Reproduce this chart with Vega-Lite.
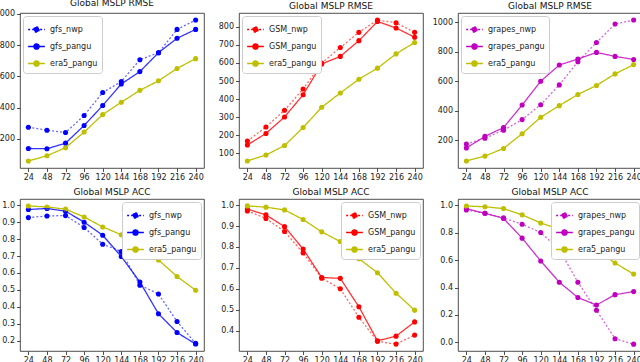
{
  "$schema": "https://vega.github.io/schema/vega-lite/v6.json",
  "autosize": {"type": "pad"},
  "padding": {"left": -7, "top": -2, "right": 0, "bottom": 0},
  "background": "white",
  "spacing": 5,
  "datasets": {
    "rmse": [
      {"series":"gfs_nwp","lead":24,"value":274},{"series":"gfs_nwp","lead":48,"value":255},{"series":"gfs_nwp","lead":72,"value":240},{"series":"gfs_nwp","lead":96,"value":349},{"series":"gfs_nwp","lead":120,"value":496},{"series":"gfs_nwp","lead":144,"value":566},{"series":"gfs_nwp","lead":168,"value":706},{"series":"gfs_nwp","lead":192,"value":751},{"series":"gfs_nwp","lead":216,"value":900},{"series":"gfs_nwp","lead":240,"value":960},
      {"series":"gfs_pangu","lead":24,"value":138},{"series":"gfs_pangu","lead":48,"value":136},{"series":"gfs_pangu","lead":72,"value":172},{"series":"gfs_pangu","lead":96,"value":285},{"series":"gfs_pangu","lead":120,"value":413},{"series":"gfs_pangu","lead":144,"value":551},{"series":"gfs_pangu","lead":168,"value":630},{"series":"gfs_pangu","lead":192,"value":751},{"series":"gfs_pangu","lead":216,"value":843},{"series":"gfs_pangu","lead":240,"value":900},
      {"series":"GSM_nwp","lead":24,"value":168},{"series":"GSM_nwp","lead":48,"value":246},{"series":"GSM_nwp","lead":72,"value":338},{"series":"GSM_nwp","lead":96,"value":456},{"series":"GSM_nwp","lead":120,"value":599},{"series":"GSM_nwp","lead":144,"value":685},{"series":"GSM_nwp","lead":168,"value":769},{"series":"GSM_nwp","lead":192,"value":837},{"series":"GSM_nwp","lead":216,"value":822},{"series":"GSM_nwp","lead":240,"value":769},
      {"series":"GSM_pangu","lead":24,"value":146},{"series":"GSM_pangu","lead":48,"value":210},{"series":"GSM_pangu","lead":72,"value":301},{"series":"GSM_pangu","lead":96,"value":424},{"series":"GSM_pangu","lead":120,"value":594},{"series":"GSM_pangu","lead":144,"value":636},{"series":"GSM_pangu","lead":168,"value":723},{"series":"GSM_pangu","lead":192,"value":829},{"series":"GSM_pangu","lead":216,"value":793},{"series":"GSM_pangu","lead":240,"value":742},
      {"series":"grapes_nwp","lead":24,"value":173},{"series":"grapes_nwp","lead":48,"value":213},{"series":"grapes_nwp","lead":72,"value":267},{"series":"grapes_nwp","lead":96,"value":339},{"series":"grapes_nwp","lead":120,"value":440},{"series":"grapes_nwp","lead":144,"value":575},{"series":"grapes_nwp","lead":168,"value":733},{"series":"grapes_nwp","lead":192,"value":863},{"series":"grapes_nwp","lead":216,"value":989},{"series":"grapes_nwp","lead":240,"value":1016},
      {"series":"grapes_pangu","lead":24,"value":146},{"series":"grapes_pangu","lead":48,"value":225},{"series":"grapes_pangu","lead":72,"value":285},{"series":"grapes_pangu","lead":96,"value":438},{"series":"grapes_pangu","lead":120,"value":600},{"series":"grapes_pangu","lead":144,"value":710},{"series":"grapes_pangu","lead":168,"value":751},{"series":"grapes_pangu","lead":192,"value":796},{"series":"grapes_pangu","lead":216,"value":769},{"series":"grapes_pangu","lead":240,"value":748},
      {"series":"era5_pangu","lead":24,"value":58},{"series":"era5_pangu","lead":48,"value":91},{"series":"era5_pangu","lead":72,"value":143},{"series":"era5_pangu","lead":96,"value":243},{"series":"era5_pangu","lead":120,"value":355},{"series":"era5_pangu","lead":144,"value":434},{"series":"era5_pangu","lead":168,"value":510},{"series":"era5_pangu","lead":192,"value":571},{"series":"era5_pangu","lead":216,"value":650},{"series":"era5_pangu","lead":240,"value":713}
    ],
    "acc": [
      {"series":"gfs_nwp","lead":24,"value":0.927},{"series":"gfs_nwp","lead":48,"value":0.937},{"series":"gfs_nwp","lead":72,"value":0.939},{"series":"gfs_nwp","lead":96,"value":0.869},{"series":"gfs_nwp","lead":120,"value":0.770},{"series":"gfs_nwp","lead":144,"value":0.727},{"series":"gfs_nwp","lead":168,"value":0.528},{"series":"gfs_nwp","lead":192,"value":0.476},{"series":"gfs_nwp","lead":216,"value":0.313},{"series":"gfs_nwp","lead":240,"value":0.184},
      {"series":"gfs_pangu","lead":24,"value":0.975},{"series":"gfs_pangu","lead":48,"value":0.981},{"series":"gfs_pangu","lead":72,"value":0.965},{"series":"gfs_pangu","lead":96,"value":0.900},{"series":"gfs_pangu","lead":120,"value":0.823},{"series":"gfs_pangu","lead":144,"value":0.697},{"series":"gfs_pangu","lead":168,"value":0.547},{"series":"gfs_pangu","lead":192,"value":0.359},{"series":"gfs_pangu","lead":216,"value":0.248},{"series":"gfs_pangu","lead":240,"value":0.180},
      {"series":"GSM_nwp","lead":24,"value":0.972},{"series":"GSM_nwp","lead":48,"value":0.936},{"series":"GSM_nwp","lead":72,"value":0.874},{"series":"GSM_nwp","lead":96,"value":0.771},{"series":"GSM_nwp","lead":120,"value":0.651},{"series":"GSM_nwp","lead":144,"value":0.600},{"series":"GSM_nwp","lead":168,"value":0.464},{"series":"GSM_nwp","lead":192,"value":0.349},{"series":"GSM_nwp","lead":216,"value":0.336},{"series":"GSM_nwp","lead":240,"value":0.379},
      {"series":"GSM_pangu","lead":24,"value":0.981},{"series":"GSM_pangu","lead":48,"value":0.953},{"series":"GSM_pangu","lead":72,"value":0.897},{"series":"GSM_pangu","lead":96,"value":0.790},{"series":"GSM_pangu","lead":120,"value":0.654},{"series":"GSM_pangu","lead":144,"value":0.650},{"series":"GSM_pangu","lead":168,"value":0.514},{"series":"GSM_pangu","lead":192,"value":0.352},{"series":"GSM_pangu","lead":216,"value":0.374},{"series":"GSM_pangu","lead":240,"value":0.442},
      {"series":"grapes_nwp","lead":24,"value":0.967},{"series":"grapes_nwp","lead":48,"value":0.943},{"series":"grapes_nwp","lead":72,"value":0.909},{"series":"grapes_nwp","lead":96,"value":0.862},{"series":"grapes_nwp","lead":120,"value":0.802},{"series":"grapes_nwp","lead":144,"value":0.678},{"series":"grapes_nwp","lead":168,"value":0.439},{"series":"grapes_nwp","lead":192,"value":0.234},{"series":"grapes_nwp","lead":216,"value":0.026},{"series":"grapes_nwp","lead":240,"value":-0.014},
      {"series":"grapes_pangu","lead":24,"value":0.976},{"series":"grapes_pangu","lead":48,"value":0.943},{"series":"grapes_pangu","lead":72,"value":0.905},{"series":"grapes_pangu","lead":96,"value":0.761},{"series":"grapes_pangu","lead":120,"value":0.594},{"series":"grapes_pangu","lead":144,"value":0.439},{"series":"grapes_pangu","lead":168,"value":0.327},{"series":"grapes_pangu","lead":192,"value":0.272},{"series":"grapes_pangu","lead":216,"value":0.348},{"series":"grapes_pangu","lead":240,"value":0.370},
      {"series":"era5_pangu","lead":24,"value":0.996},{"series":"era5_pangu","lead":48,"value":0.990},{"series":"era5_pangu","lead":72,"value":0.977},{"series":"era5_pangu","lead":96,"value":0.931},{"series":"era5_pangu","lead":120,"value":0.872},{"series":"era5_pangu","lead":144,"value":0.826},{"series":"era5_pangu","lead":168,"value":0.744},{"series":"era5_pangu","lead":192,"value":0.677},{"series":"era5_pangu","lead":216,"value":0.579},{"series":"era5_pangu","lead":240,"value":0.498}
    ]
  },
  "vconcat": [
    {
      "bounds": "flush",
      "spacing": 35,
      "resolve": {"scale": {"color": "independent", "strokeDash": "independent", "strokeOpacity": "independent", "y": "independent", "x": "independent"}, "legend": {"color": "independent", "strokeDash": "independent"}},
      "hconcat": [
        {
          "width": 184, "height": 155, "title": "Global MSLP RMSE",
          "data": {"name": "rmse"},
          "transform": [{"filter": {"field": "series", "oneOf": ["gfs_nwp", "gfs_pangu", "era5_pangu"]}}],
          "encoding": {
            "x": {"field": "lead", "type": "quantitative", "scale": {"domain": [13.2, 250.8], "nice": false}, "axis": {"values": [24,48,72,96,120,144,168,192,216,240], "title": null}},
            "y": {"field": "value", "type": "quantitative", "scale": {"domain": [13, 1005], "nice": false, "zero": false}, "axis": {"values": [200,400,600,800,1000], "format": "d", "title": null}},
            "color": {"field": "series", "type": "nominal", "scale": {"domain": ["gfs_nwp", "gfs_pangu", "era5_pangu"], "range": ["#0000ff", "#0000ff", "#bfbf00"]}, "legend": {"orient": "top-left", "title": null}}
          },
          "layer": [
            {"mark": {"type": "point", "filled": true, "size": 26, "opacity": 1}},
            {"mark": {"type": "line", "strokeWidth": 1.3},
             "encoding": {
               "strokeDash": {"field": "series", "type": "nominal", "scale": {"domain": ["gfs_nwp", "gfs_pangu", "era5_pangu"], "range": [[2,2],[1,0],[1,0]]}, "legend": {"orient": "top-left", "title": null}},
               "strokeOpacity": {"field": "series", "type": "nominal", "scale": {"domain": ["gfs_nwp", "gfs_pangu", "era5_pangu"], "range": [0.6, 1, 1]}, "legend": null}
             }}
          ]
        },
        {
          "width": 184, "height": 155, "title": "Global MSLP RMSE",
          "data": {"name": "rmse"},
          "transform": [{"filter": {"field": "series", "oneOf": ["GSM_nwp", "GSM_pangu", "era5_pangu"]}}],
          "encoding": {
            "x": {"field": "lead", "type": "quantitative", "scale": {"domain": [13.2, 250.8], "nice": false}, "axis": {"values": [24,48,72,96,120,144,168,192,216,240], "title": null}},
            "y": {"field": "value", "type": "quantitative", "scale": {"domain": [19, 876], "nice": false, "zero": false}, "axis": {"values": [100,200,300,400,500,600,700,800], "format": "d", "title": null}},
            "color": {"field": "series", "type": "nominal", "scale": {"domain": ["GSM_nwp", "GSM_pangu", "era5_pangu"], "range": ["#ff0000", "#ff0000", "#bfbf00"]}, "legend": {"orient": "top-left", "title": null}}
          },
          "layer": [
            {"mark": {"type": "point", "filled": true, "size": 26, "opacity": 1}},
            {"mark": {"type": "line", "strokeWidth": 1.3},
             "encoding": {
               "strokeDash": {"field": "series", "type": "nominal", "scale": {"domain": ["GSM_nwp", "GSM_pangu", "era5_pangu"], "range": [[2,2],[1,0],[1,0]]}, "legend": {"orient": "top-left", "title": null}},
               "strokeOpacity": {"field": "series", "type": "nominal", "scale": {"domain": ["GSM_nwp", "GSM_pangu", "era5_pangu"], "range": [0.6, 1, 1]}, "legend": null}
             }}
          ]
        },
        {
          "width": 184, "height": 155, "title": "Global MSLP RMSE",
          "data": {"name": "rmse"},
          "transform": [{"filter": {"field": "series", "oneOf": ["grapes_nwp", "grapes_pangu", "era5_pangu"]}}],
          "encoding": {
            "x": {"field": "lead", "type": "quantitative", "scale": {"domain": [13.2, 250.8], "nice": false}, "axis": {"values": [24,48,72,96,120,144,168,192,216,240], "title": null}},
            "y": {"field": "value", "type": "quantitative", "scale": {"domain": [10, 1064], "nice": false, "zero": false}, "axis": {"values": [200,400,600,800,1000], "format": "d", "title": null}},
            "color": {"field": "series", "type": "nominal", "scale": {"domain": ["grapes_nwp", "grapes_pangu", "era5_pangu"], "range": ["#bf00bf", "#bf00bf", "#bfbf00"]}, "legend": {"orient": "top-left", "title": null}}
          },
          "layer": [
            {"mark": {"type": "point", "filled": true, "size": 26, "opacity": 1}},
            {"mark": {"type": "line", "strokeWidth": 1.3},
             "encoding": {
               "strokeDash": {"field": "series", "type": "nominal", "scale": {"domain": ["grapes_nwp", "grapes_pangu", "era5_pangu"], "range": [[2,2],[1,0],[1,0]]}, "legend": {"orient": "top-left", "title": null}},
               "strokeOpacity": {"field": "series", "type": "nominal", "scale": {"domain": ["grapes_nwp", "grapes_pangu", "era5_pangu"], "range": [0.6, 1, 1]}, "legend": null}
             }}
          ]
        }
      ]
    },
    {
      "bounds": "flush",
      "spacing": 35,
      "resolve": {"scale": {"color": "independent", "strokeDash": "independent", "strokeOpacity": "independent", "y": "independent", "x": "independent"}, "legend": {"color": "independent", "strokeDash": "independent"}},
      "hconcat": [
        {
          "width": 184, "height": 152, "title": "Global MSLP ACC",
          "data": {"name": "acc"},
          "transform": [{"filter": {"field": "series", "oneOf": ["gfs_nwp", "gfs_pangu", "era5_pangu"]}}],
          "encoding": {
            "x": {"field": "lead", "type": "quantitative", "scale": {"domain": [13.2, 250.8], "nice": false}, "axis": {"values": [24,48,72,96,120,144,168,192,216,240], "title": null}},
            "y": {"field": "value", "type": "quantitative", "scale": {"domain": [0.139, 1.037], "nice": false, "zero": false}, "axis": {"values": [0.2,0.3,0.4,0.5,0.6,0.7,0.8,0.9,1.0], "format": ".1f", "title": null}},
            "color": {"field": "series", "type": "nominal", "scale": {"domain": ["gfs_nwp", "gfs_pangu", "era5_pangu"], "range": ["#0000ff", "#0000ff", "#bfbf00"]}, "legend": {"orient": "top-right", "title": null}}
          },
          "layer": [
            {"mark": {"type": "point", "filled": true, "size": 26, "opacity": 1}},
            {"mark": {"type": "line", "strokeWidth": 1.3},
             "encoding": {
               "strokeDash": {"field": "series", "type": "nominal", "scale": {"domain": ["gfs_nwp", "gfs_pangu", "era5_pangu"], "range": [[2,2],[1,0],[1,0]]}, "legend": {"orient": "top-right", "title": null}},
               "strokeOpacity": {"field": "series", "type": "nominal", "scale": {"domain": ["gfs_nwp", "gfs_pangu", "era5_pangu"], "range": [0.6, 1, 1]}, "legend": null}
             }}
          ]
        },
        {
          "width": 184, "height": 152, "title": "Global MSLP ACC",
          "data": {"name": "acc"},
          "transform": [{"filter": {"field": "series", "oneOf": ["GSM_nwp", "GSM_pangu", "era5_pangu"]}}],
          "encoding": {
            "x": {"field": "lead", "type": "quantitative", "scale": {"domain": [13.2, 250.8], "nice": false}, "axis": {"values": [24,48,72,96,120,144,168,192,216,240], "title": null}},
            "y": {"field": "value", "type": "quantitative", "scale": {"domain": [0.303, 1.029], "nice": false, "zero": false}, "axis": {"values": [0.4,0.5,0.6,0.7,0.8,0.9,1.0], "format": ".1f", "title": null}},
            "color": {"field": "series", "type": "nominal", "scale": {"domain": ["GSM_nwp", "GSM_pangu", "era5_pangu"], "range": ["#ff0000", "#ff0000", "#bfbf00"]}, "legend": {"orient": "top-right", "title": null}}
          },
          "layer": [
            {"mark": {"type": "point", "filled": true, "size": 26, "opacity": 1}},
            {"mark": {"type": "line", "strokeWidth": 1.3},
             "encoding": {
               "strokeDash": {"field": "series", "type": "nominal", "scale": {"domain": ["GSM_nwp", "GSM_pangu", "era5_pangu"], "range": [[2,2],[1,0],[1,0]]}, "legend": {"orient": "top-right", "title": null}},
               "strokeOpacity": {"field": "series", "type": "nominal", "scale": {"domain": ["GSM_nwp", "GSM_pangu", "era5_pangu"], "range": [0.6, 1, 1]}, "legend": null}
             }}
          ]
        },
        {
          "width": 184, "height": 152, "title": "Global MSLP ACC",
          "data": {"name": "acc"},
          "transform": [{"filter": {"field": "series", "oneOf": ["grapes_nwp", "grapes_pangu", "era5_pangu"]}}],
          "encoding": {
            "x": {"field": "lead", "type": "quantitative", "scale": {"domain": [13.2, 250.8], "nice": false}, "axis": {"values": [24,48,72,96,120,144,168,192,216,240], "title": null}},
            "y": {"field": "value", "type": "quantitative", "scale": {"domain": [-0.064, 1.047], "nice": false, "zero": false}, "axis": {"values": [0.0,0.2,0.4,0.6,0.8,1.0], "format": ".1f", "title": null}},
            "color": {"field": "series", "type": "nominal", "scale": {"domain": ["grapes_nwp", "grapes_pangu", "era5_pangu"], "range": ["#bf00bf", "#bf00bf", "#bfbf00"]}, "legend": {"orient": "top-right", "title": null}}
          },
          "layer": [
            {"mark": {"type": "point", "filled": true, "size": 26, "opacity": 1}},
            {"mark": {"type": "line", "strokeWidth": 1.3},
             "encoding": {
               "strokeDash": {"field": "series", "type": "nominal", "scale": {"domain": ["grapes_nwp", "grapes_pangu", "era5_pangu"], "range": [[2,2],[1,0],[1,0]]}, "legend": {"orient": "top-right", "title": null}},
               "strokeOpacity": {"field": "series", "type": "nominal", "scale": {"domain": ["grapes_nwp", "grapes_pangu", "era5_pangu"], "range": [0.6, 1, 1]}, "legend": null}
             }}
          ]
        }
      ]
    }
  ],
  "resolve": {"scale": {"color": "independent", "strokeDash": "independent", "strokeOpacity": "independent", "y": "independent", "x": "independent"}, "legend": {"color": "independent", "strokeDash": "independent"}},
  "config": {
    "font": "DejaVu Sans",
    "view": {"stroke": "#222", "strokeWidth": 0.8},
    "axis": {"domain": false, "grid": false, "labelFont": "DejaVu Sans", "labelFontSize": 8, "labelColor": "#222", "tickColor": "#222", "tickSize": 3.5, "tickWidth": 0.8, "labelPadding": 2, "labelFlush": false, "labelOverlap": false},
    "title": {"font": "DejaVu Sans", "fontSize": 9, "fontWeight": "normal", "color": "#111", "offset": 2},
    "legend": {
      "labelFont": "DejaVu Sans", "labelFontSize": 8, "labelColor": "#222",
      "symbolType": "M-1,0H1M-0.32,0A0.32,0.32 0 1,1 0.32,0A0.32,0.32 0 1,1 -0.32,0Z",
      "symbolSize": 280, "symbolStrokeWidth": 1.3,
      "fillColor": "white", "strokeColor": "#cccccc", "cornerRadius": 3,
      "padding": 4, "rowPadding": 2, "offset": 3, "labelOffset": 4
    }
  }
}
